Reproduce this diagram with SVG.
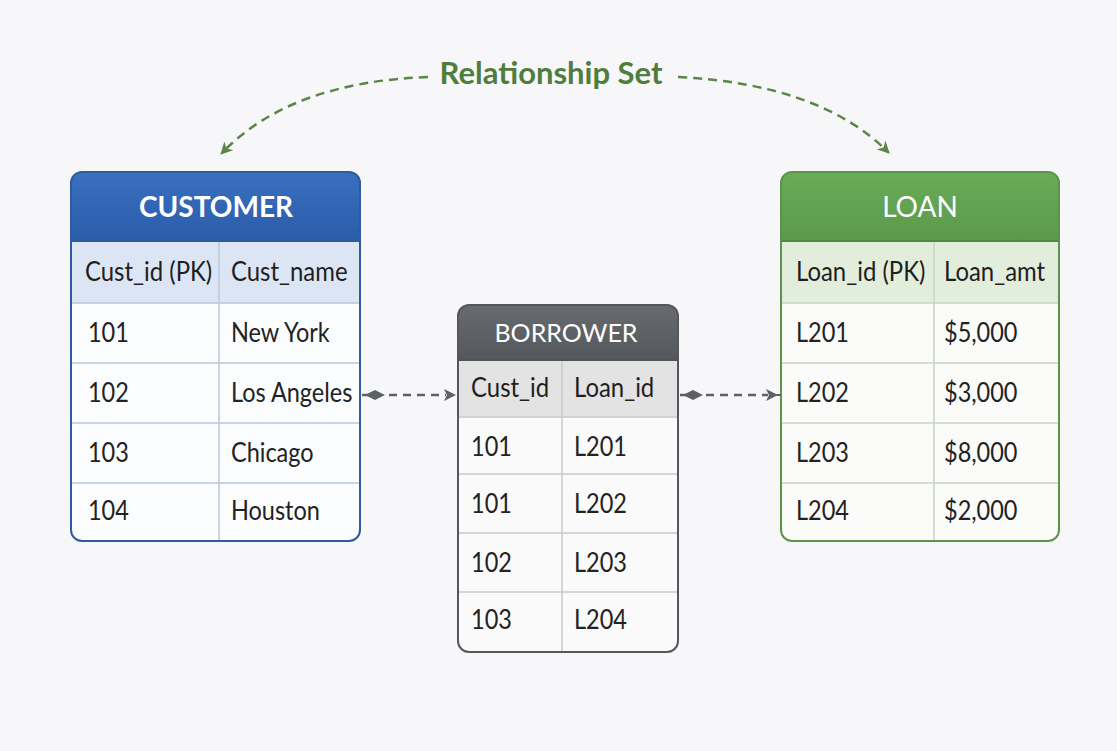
<svg xmlns="http://www.w3.org/2000/svg" width="1117" height="751" viewBox="0 0 1117 751">
<style>
.hdr{font-family:Lato,"Open Sans",sans-serif;font-weight:bold;font-size:28px;fill:#ffffff;text-anchor:middle}
.col{font-family:Lato,"Open Sans",sans-serif;font-size:26px;fill:#1e1e1e}
.cell{font-family:Lato,"Open Sans",sans-serif;font-size:27px;fill:#222222}
.grid{stroke-width:1.5;fill:none}
.rel{font-family:Lato,"Open Sans",sans-serif;font-weight:bold;font-size:31px;fill:#4f7d3e;text-anchor:middle}
.conn{stroke:#5d6166;stroke-width:2.5;stroke-dasharray:8 6;fill:none}
.arc{stroke:#5b8549;stroke-width:2.5;stroke-dasharray:9 6;fill:none}
</style>
<defs>
<marker id="arrG" viewBox="0 0 10 10" refX="8" refY="5" markerWidth="5" markerHeight="5" orient="auto" markerUnits="strokeWidth">
<path d="M0,0 L10,5 L0,10 L3,5 Z" fill="#5b8549"/>
</marker>
<clipPath id="cC"><rect x="71" y="172" width="289" height="369" rx="11"/></clipPath>
<clipPath id="cB"><rect x="458" y="305" width="220" height="347" rx="11"/></clipPath>
<clipPath id="cL"><rect x="781" y="172" width="278" height="369" rx="11"/></clipPath>
<linearGradient id="gBlue" x1="0" y1="0" x2="0" y2="1"><stop offset="0" stop-color="#3a70c0"/><stop offset="1" stop-color="#2a5caa"/></linearGradient>
<linearGradient id="gGray" x1="0" y1="0" x2="0" y2="1"><stop offset="0" stop-color="#686c70"/><stop offset="1" stop-color="#54585c"/></linearGradient>
<linearGradient id="gGreen" x1="0" y1="0" x2="0" y2="1"><stop offset="0" stop-color="#6aab58"/><stop offset="1" stop-color="#5a9a4a"/></linearGradient>
</defs>
<rect width="1117" height="751" fill="#f7f7f9"/>

<g id="relationship-set">
<text class="rel" x="551" y="84">Relationship Set</text>
</g>

<g id="customer">
<g clip-path="url(#cC)">
<rect x="71" y="172" width="289" height="369" fill="#fbfcfe"/>
<rect x="71" y="172" width="289" height="69" fill="url(#gBlue)"/>
<rect x="71" y="241" width="289" height="62" fill="#dce5f3"/>
</g>
<g class="grid" stroke="#b9c7dd">
<line x1="71" y1="303" x2="360" y2="303"/>
<line x1="71" y1="363" x2="360" y2="363"/>
<line x1="71" y1="423" x2="360" y2="423"/>
<line x1="71" y1="483" x2="360" y2="483"/>
<line x1="219" y1="241" x2="219" y2="541"/>
</g>
<line x1="71" y1="241" x2="360" y2="241" stroke="#2f5a9c" stroke-width="2"/>
<rect x="71" y="172" width="289" height="369" rx="11" fill="none" stroke="#2f5a9c" stroke-width="2"/>
<text class="hdr" x="216" y="217">CUSTOMER</text>
<g transform="scale(0.92,1)">
<text class="col" x="92.4" y="281">Cust_id (PK)</text>
<text class="col" x="251.1" y="281">Cust_name</text>
</g>
<g transform="scale(0.87,1)">
<text class="cell" x="101.1" y="342">101</text><text class="cell" x="265.5" y="342">New York</text>
<text class="cell" x="101.1" y="402">102</text><text class="cell" x="265.5" y="402">Los Angeles</text>
<text class="cell" x="101.1" y="462">103</text><text class="cell" x="265.5" y="462">Chicago</text>
<text class="cell" x="101.1" y="520">104</text><text class="cell" x="265.5" y="520">Houston</text>
</g>
</g>

<g id="borrower">
<g clip-path="url(#cB)">
<rect x="458" y="305" width="220" height="347" fill="#fafafa"/>
<rect x="458" y="305" width="220" height="55" fill="url(#gGray)"/>
<rect x="458" y="360" width="220" height="57" fill="#e3e3e3"/>
</g>
<g class="grid" stroke="#c8c8c8">
<line x1="458" y1="417" x2="678" y2="417"/>
<line x1="458" y1="474" x2="678" y2="474"/>
<line x1="458" y1="533" x2="678" y2="533"/>
<line x1="458" y1="592" x2="678" y2="592"/>
<line x1="562" y1="360" x2="562" y2="652"/>
</g>
<line x1="458" y1="360" x2="678" y2="360" stroke="#505458" stroke-width="2"/>
<rect x="458" y="305" width="220" height="347" rx="11" fill="none" stroke="#54585c" stroke-width="2"/>
<text class="hdr" x="566" y="342" style="font-weight:normal;font-size:25px">BORROWER</text>
<g transform="scale(0.92,1)">
<text class="col" x="512" y="397">Cust_id</text>
<text class="col" x="623.9" y="397">Loan_id</text>
</g>
<g transform="scale(0.87,1)">
<text class="cell" x="541.4" y="456">101</text><text class="cell" x="659.8" y="456">L201</text>
<text class="cell" x="541.4" y="513">101</text><text class="cell" x="659.8" y="513">L202</text>
<text class="cell" x="541.4" y="572">102</text><text class="cell" x="659.8" y="572">L203</text>
<text class="cell" x="541.4" y="629">103</text><text class="cell" x="659.8" y="629">L204</text>
</g>
</g>

<g id="loan">
<g clip-path="url(#cL)">
<rect x="781" y="172" width="278" height="369" fill="#fbfcfa"/>
<rect x="781" y="172" width="278" height="69" fill="url(#gGreen)"/>
<rect x="781" y="241" width="278" height="62" fill="#e2eddb"/>
</g>
<g class="grid" stroke="#c9d6c2">
<line x1="781" y1="303" x2="1059" y2="303"/>
<line x1="781" y1="363" x2="1059" y2="363"/>
<line x1="781" y1="423" x2="1059" y2="423"/>
<line x1="781" y1="483" x2="1059" y2="483"/>
<line x1="934" y1="241" x2="934" y2="541"/>
</g>
<line x1="781" y1="241" x2="1059" y2="241" stroke="#4f8a40" stroke-width="2"/>
<rect x="781" y="172" width="278" height="369" rx="11" fill="none" stroke="#5a9449" stroke-width="2"/>
<text class="hdr" x="920" y="217" style="font-weight:normal">LOAN</text>
<g transform="scale(0.92,1)">
<text class="col" x="865.2" y="281">Loan_id (PK)</text>
<text class="col" x="1026.1" y="281">Loan_amt</text>
</g>
<g transform="scale(0.87,1)">
<text class="cell" x="914.9" y="342">L201</text><text class="cell" x="1085.1" y="342">$5,000</text>
<text class="cell" x="914.9" y="402">L202</text><text class="cell" x="1085.1" y="402">$3,000</text>
<text class="cell" x="914.9" y="462">L203</text><text class="cell" x="1085.1" y="462">$8,000</text>
<text class="cell" x="914.9" y="520">L204</text><text class="cell" x="1085.1" y="520">$2,000</text>
</g>
</g>

<g id="connectors">
<line x1="362" y1="395" x2="372" y2="395" stroke="#5d6166" stroke-width="2.5"/>
<path d="M365,395 L375,390 L385,395 L375,400 Z" fill="#5d6166"/>
<line class="conn" x1="389" y1="395" x2="446" y2="395"/>
<path d="M444,389 L456,395 L444,401 L447,395 Z" fill="#5d6166"/>
<line x1="680" y1="395" x2="690" y2="395" stroke="#5d6166" stroke-width="2.5"/>
<path d="M683,395 L693,390 L703,395 L693,400 Z" fill="#5d6166"/>
<line class="conn" x1="706" y1="395" x2="768" y2="395"/>
<path d="M766,389 L778,395 L766,401 L769,395 Z" fill="#5d6166"/>
<line x1="776" y1="395" x2="781" y2="395" stroke="#5d6166" stroke-width="2"/>
<path class="arc" d="M428,77 Q290,82 222,153" marker-end="url(#arrG)"/>
<path class="arc" d="M678,77 Q820,84 888,152" marker-end="url(#arrG)"/>
</g>
</svg>
